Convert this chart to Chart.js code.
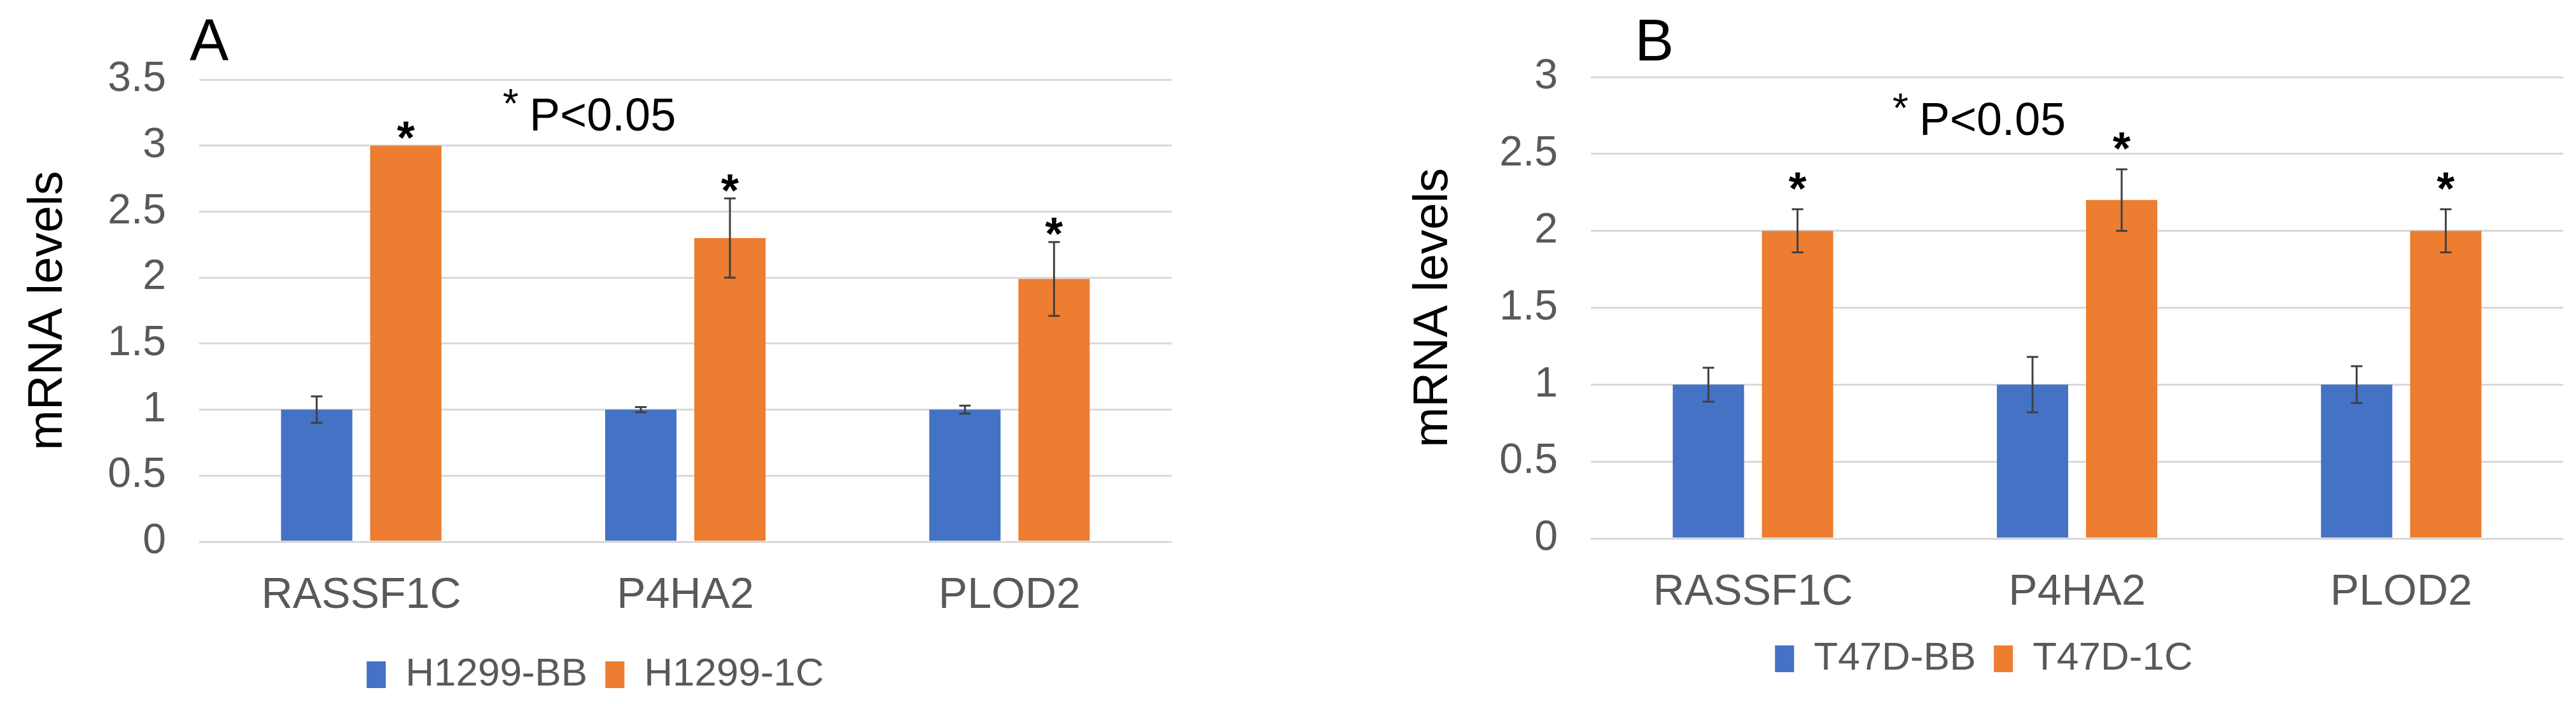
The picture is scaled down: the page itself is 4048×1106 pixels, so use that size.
<!DOCTYPE html>
<html><head><meta charset="utf-8">
<script src="https://cdn.jsdelivr.net/npm/chart.js@4"></script>
<style>
html,body{margin:0;padding:0;background:#fff;width:4048px;height:1106px;overflow:hidden}
.w{position:absolute;top:0;width:2024px;height:1106px}
</style></head><body>
<div class="w" style="left:0"><canvas id="a"></canvas></div>
<div class="w" style="left:2024px"><canvas id="b"></canvas></div>
<script>
const categories = ['RASSF1C','P4HA2','PLOD2'];
const seriesA = ['H1299-BB','H1299-1C'];
const valuesA_BB = [1.0, 1.0, 1.0];
const errorsA_BB = [0.1, 0.02, 0.03];
const valuesA_1C = [3.0, 2.3, 1.99];
const errorsA_1C = [0.0, 0.3, 0.28];
const seriesB = ['T47D-BB','T47D-1C'];
const valuesB_BB = [1.0, 1.0, 1.0];
const errorsB_BB = [0.11, 0.18, 0.12];
const valuesB_1C = [2.0, 2.2, 2.0];
const errorsB_1C = [0.14, 0.2, 0.14];
const yTicksA = [0, 3.5, 0.5];
const yTicksB = [0, 3, 0.5];

const BLUE = '#4472C4', ORANGE = '#ED7D31';
const ARIAL = '"Liberation Sans", Arial, sans-serif';

const errPlugin = {
  id: 'err',
  afterDatasetsDraw(chart, args, opts) {
    const ctx = chart.ctx, y = chart.scales.y;
    ctx.save();
    chart.data.datasets.forEach((ds, di) => {
      const meta = chart.getDatasetMeta(di);
      meta.data.forEach((bar, i) => {
        const v = ds.data[i], e = ds.errors[i];
        const top = y.getPixelForValue(v + e), bot = y.getPixelForValue(v - e);
        if (e > 0) {
          ctx.strokeStyle = '#404040'; ctx.lineWidth = 3;
          ctx.beginPath();
          ctx.moveTo(bar.x, top); ctx.lineTo(bar.x, bot);
          ctx.moveTo(bar.x - 9, top); ctx.lineTo(bar.x + 9, top);
          ctx.moveTo(bar.x - 9, bot); ctx.lineTo(bar.x + 9, bot);
          ctx.stroke();
        }
        if (ds.star) {
          ctx.fillStyle = '#000';
          ctx.font = 'bold 72px ' + ARIAL;
          ctx.textAlign = 'center'; ctx.textBaseline = 'middle';
          ctx.fillText('*', bar.x + (opts.dx || 0), top + (opts.sy || 0));
        }
      });
    });
    ctx.fillStyle = '#000';
    ctx.textAlign = 'left'; ctx.textBaseline = 'middle';
    ctx.font = '92px ' + ARIAL;
    ctx.fillText(opts.letter, opts.lx, opts.ly);
    ctx.font = '64px ' + ARIAL;
    ctx.fillText('*', opts.px, opts.py - 18);
    ctx.font = '72px ' + ARIAL;
    ctx.fillText('P<0.05', opts.px + 42, opts.py);
    ctx.restore();
  }
};

function make(id, labels, names, v1, e1, v2, e2, ticks, L, opts) {
  new Chart(document.getElementById(id), {
    type: 'bar',
    data: {
      labels: labels,
      datasets: [
        {label: names[0], data: v1, errors: e1, backgroundColor: BLUE, star: false,
         categoryPercentage: 0.55, barPercentage: 0.8},
        {label: names[1], data: v2, errors: e2, backgroundColor: ORANGE, star: true,
         categoryPercentage: 0.55, barPercentage: 0.8}
      ]
    },
    plugins: [errPlugin],
    options: {
      responsive: false, animation: false, devicePixelRatio: 1,
      layout: {padding: {left: L.left, right: L.right, top: L.top, bottom: L.bottom}},
      plugins: {
        legend: {position: 'bottom', labels: {font: {size: 62, family: ARIAL}, color: '#595959',
          boxWidth: 30, boxHeight: 42, padding: 28}},
        tooltip: {enabled: false},
        err: opts
      },
      scales: {
        x: {grid: {display: false}, border: {display: false},
            ticks: {font: {size: 68, family: ARIAL}, color: '#595959', padding: 36},
            afterFit: s => { s.height = L.xh; }},
        y: {min: ticks[0], max: ticks[1],
            grid: {color: '#d9d9d9', lineWidth: 3, drawTicks: false},
            border: {display: false},
            ticks: {stepSize: ticks[2], font: {size: 66, family: ARIAL}, color: '#595959', padding: 52,
                    callback: v => String(v)},
            title: {display: true, text: 'mRNA levels', color: '#000', font: {size: 76, family: ARIAL}, padding: 0},
            afterFit: s => { s.width = L.yw; }}
      }
    }
  });
}
document.getElementById('a').width = 2024; document.getElementById('a').height = 1106;
document.getElementById('b').width = 2024; document.getElementById('b').height = 1106;

make('a', categories, seriesA, valuesA_BB, errorsA_BB, valuesA_1C, errorsA_1C, yTicksA,
  {left: 30, right: 183, top: 125, bottom: 5, xh: 150, yw: 283},
  {letter: 'A', lx: 298, ly: 70, px: 790, py: 185, sy: -8});
make('b', categories, seriesB, valuesB_BB, errorsB_BB, valuesB_1C, errorsB_1C, yTicksB,
  {left: 183, right: 20, top: 121, bottom: 30, xh: 130, yw: 293},
  {letter: 'B', lx: 545, ly: 70, px: 950, py: 192, sy: -28});
</script>
</body></html>
